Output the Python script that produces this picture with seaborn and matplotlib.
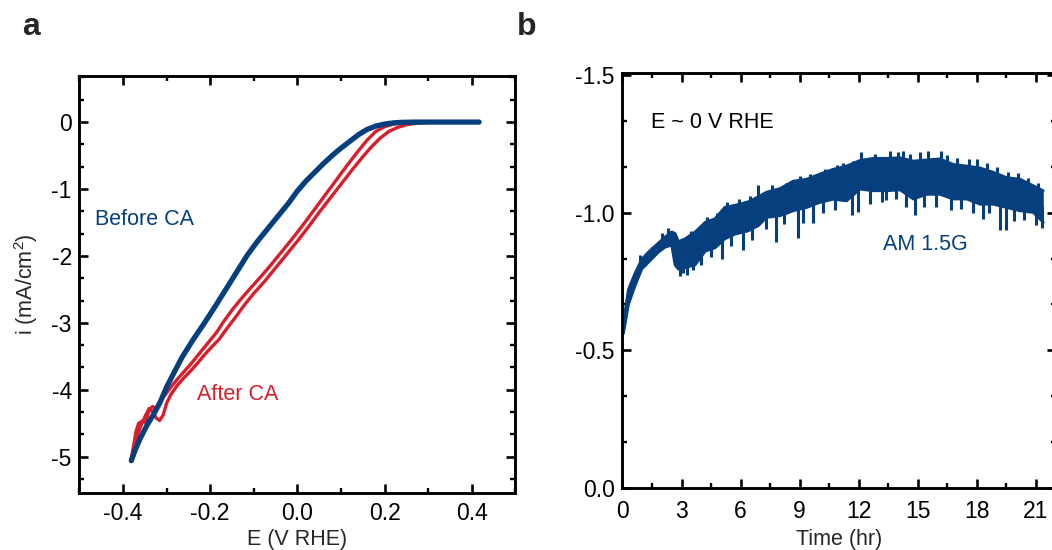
import matplotlib
matplotlib.use("Agg")
import matplotlib.pyplot as plt
from matplotlib.ticker import MultipleLocator, FormatStrFormatter
import seaborn as sns
import pandas as pd
import numpy as np

# ---------------- data: panel a (LSV before / after CA) ----------------
before_E = [-0.381, -0.372, -0.360, -0.345, -0.330, -0.315, -0.300, -0.285, -0.265, -0.240,
            -0.215, -0.190, -0.165, -0.140, -0.115, -0.090, -0.065, -0.040, -0.020, 0.000,
            0.020, 0.040, 0.060, 0.080, 0.100, 0.120, 0.140, 0.160, 0.180, 0.200,
            0.220, 0.240, 0.270, 0.320, 0.417]
before_i = [-5.06, -4.90, -4.72, -4.53, -4.37, -4.19, -3.96, -3.77, -3.52, -3.26,
            -3.02, -2.77, -2.51, -2.25, -1.99, -1.77, -1.57, -1.37, -1.21, -1.03,
            -0.88, -0.75, -0.62, -0.50, -0.39, -0.29, -0.19, -0.11, -0.06, -0.03,
            -0.012, -0.004, 0.0, 0.0, 0.0]

after1_E = [-0.381, -0.376, -0.370, -0.364, -0.356, -0.348, -0.340, -0.332, -0.324, -0.316,
            -0.304, -0.290, -0.275, -0.260, -0.245, -0.230, -0.215, -0.200, -0.185, -0.170,
            -0.150, -0.130, -0.110, -0.085, -0.060, -0.035, -0.010, 0.015, 0.040, 0.065,
            0.090, 0.115, 0.140, 0.160, 0.180, 0.200, 0.220, 0.240, 0.270, 0.405]
after1_i = [-5.03, -4.85, -4.62, -4.50, -4.47, -4.49, -4.30, -4.25, -4.29, -4.18,
            -4.08, -3.96, -3.84, -3.73, -3.62, -3.50, -3.38, -3.26, -3.14, -2.99,
            -2.81, -2.65, -2.50, -2.32, -2.13, -1.93, -1.73, -1.52, -1.30, -1.08,
            -0.86, -0.64, -0.43, -0.27, -0.14, -0.07, -0.03, -0.01, 0.0, 0.0]

after2_E = [-0.381, -0.376, -0.368, -0.358, -0.348, -0.340, -0.332, -0.324, -0.316, -0.308,
            -0.300, -0.290, -0.275, -0.260, -0.245, -0.230, -0.212, -0.195, -0.180, -0.160,
            -0.140, -0.120, -0.100, -0.075, -0.050, -0.025, 0.000, 0.025, 0.050, 0.075,
            0.100, 0.125, 0.150, 0.170, 0.190, 0.210, 0.230, 0.250, 0.270, 0.300,
            0.330, 0.405]
after2_i = [-5.06, -4.88, -4.70, -4.52, -4.38, -4.28, -4.33, -4.42, -4.46, -4.38,
            -4.20, -4.07, -3.93, -3.82, -3.72, -3.61, -3.47, -3.35, -3.25, -3.07,
            -2.90, -2.72, -2.56, -2.38, -2.18, -1.98, -1.78, -1.57, -1.35, -1.14,
            -0.93, -0.72, -0.52, -0.37, -0.24, -0.14, -0.08, -0.04, -0.02, -0.005,
            0.0, 0.0]

# ---------------- data: panel b (CA at ~0 V RHE) ----------------
ca_t = [0.05, 0.3, 0.64, 0.98, 1.32, 1.83, 2.17, 2.5, 2.67, 2.84, 3.18, 3.69, 4.2, 4.7, 5.2,
        5.71, 6.39, 6.9, 7.32, 8.0, 8.67, 9.35, 10.0, 10.7, 11.38, 12.05, 12.73, 13.4, 14.1,
        14.77, 15.45, 16.12, 16.8, 17.48, 18.16, 18.84, 19.51, 20.19, 20.87, 21.37]
ca_upper = [-0.60, -0.72, -0.78, -0.83, -0.857, -0.89, -0.912, -0.93, -0.925, -0.895, -0.905,
            -0.93, -0.965, -0.978, -1.02, -1.027, -1.04, -1.058, -1.075, -1.088, -1.115,
            -1.122, -1.14, -1.158, -1.17, -1.19, -1.198, -1.198, -1.2, -1.188, -1.192,
            -1.196, -1.176, -1.17, -1.163, -1.147, -1.128, -1.122, -1.098, -1.08]
ca_lower = [-0.56, -0.665, -0.735, -0.795, -0.82, -0.857, -0.875, -0.882, -0.81, -0.795, -0.80,
            -0.81, -0.86, -0.872, -0.905, -0.922, -0.934, -0.953, -0.983, -0.989, -1.007,
            -1.019, -1.037, -1.049, -1.043, -1.086, -1.08, -1.08, -1.083, -1.05, -1.067,
            -1.067, -1.05, -1.05, -1.031, -1.031, -1.019, -1.007, -1.001, -0.965]
# short noise spikes (time, tip value)
spike_t = [0.0, 2.9, 3.05, 3.3, 3.6, 4.0, 4.5, 5.04, 5.5, 6.14, 6.6, 7.3, 7.79, 8.2, 8.89,
           9.18, 9.7, 10.2, 10.8, 11.65, 11.96, 12.58, 13.17, 13.4, 13.9, 14.4, 14.85, 15.3,
           15.9, 16.7, 17.2, 17.8, 18.33, 18.6, 19.17, 19.5, 19.9, 20.4, 21.0, 21.3,
           0.9, 1.5, 2.0, 2.3, 3.5, 4.3, 4.8, 5.3, 5.9, 6.5, 6.9, 7.6, 8.3, 9.0, 9.5, 10.3,
           10.9, 11.2, 11.7, 12.1, 12.8, 13.57, 14.0, 14.26, 14.6, 15.1, 15.53, 16.2, 16.5,
           17.0, 17.6, 18.0, 18.5, 19.0, 19.6, 20.1, 20.6, 21.1]
spike_tip = [-0.85, -0.77, -0.78, -0.775, -0.79, -0.81, -0.84, -0.833, -0.88, -0.864, -0.90,
             -0.94, -0.894, -0.96, -0.909, -0.961, -0.961, -1.0, -1.01, -0.991, -1.003, -1.033,
             -1.039, -1.045, -1.05, -1.02, -0.991, -1.02, -1.02, -1.009, -1.015, -1.0, -0.979,
             -1.0, -0.936, -0.936, -0.97, -0.975, -0.955, -0.945,
             -0.845, -0.875, -0.925, -0.945, -0.935, -0.985, -1.0, -1.04, -1.05, -1.06, -1.10,
             -1.10, -1.11, -1.135, -1.14, -1.16, -1.175, -1.18, -1.19, -1.22, -1.215, -1.225,
             -1.22, -1.225, -1.215, -1.22, -1.225, -1.225, -1.21, -1.2, -1.195, -1.195, -1.18,
             -1.165, -1.15, -1.145, -1.125, -1.11]

BLUE = "#053f7e"
RED = "#d81e2a"

sns.set_style("ticks")
plt.rcParams["font.family"] = ["Liberation Sans", "DejaVu Sans"]
plt.rcParams["axes.unicode_minus"] = False
plt.rcParams["mathtext.fontset"] = "custom"
plt.rcParams["mathtext.rm"] = "Liberation Sans"

fig = plt.figure(figsize=(10.52, 5.5), dpi=100)
ax1 = fig.add_axes([0.0755, 0.104, 0.4143, 0.758])
ax2 = fig.add_axes([0.5917, 0.1136, 0.4118, 0.7544])

TICK_FS = 16.5
LAB_FS = 15.5


def style(ax, xpad=5.5):
    for s in ax.spines.values():
        s.set_linewidth(2.1)
        s.set_color("black")
    ax.tick_params(which="both", direction="in", top=True, right=True,
                   labelsize=TICK_FS, colors="black", pad=5.5)
    ax.tick_params(axis="x", which="both", pad=xpad)
    ax.tick_params(which="major", length=6.5, width=1.9)
    ax.tick_params(which="minor", length=3.6, width=1.7)


# ---------------- panel a ----------------
dfa1 = pd.DataFrame({"E": after1_E, "i": after1_i})
dfa2 = pd.DataFrame({"E": after2_E, "i": after2_i})
dfb = pd.DataFrame({"E": before_E, "i": before_i})
kw = dict(sort=False, estimator=None, ax=ax1)
sns.lineplot(data=dfa1, x="E", y="i", color=RED, lw=2.4, **kw)
sns.lineplot(data=dfa2, x="E", y="i", color=RED, lw=2.4, **kw)
sns.lineplot(data=dfb, x="E", y="i", color=BLUE, lw=3.8, **kw)
for ln in ax1.lines:
    ln.set_solid_joinstyle("round")
    ln.set_solid_capstyle("round")

ax1.set_xlim(-0.5, 0.5)
ax1.set_ylim(-5.54, 0.69)
ax1.xaxis.set_major_locator(MultipleLocator(0.2))
ax1.xaxis.set_minor_locator(MultipleLocator(0.1))
ax1.xaxis.set_major_formatter(FormatStrFormatter("%.1f"))
ax1.yaxis.set_major_locator(MultipleLocator(1))
ax1.yaxis.set_minor_locator(MultipleLocator(1 / 3))
ax1.yaxis.set_major_formatter(FormatStrFormatter("%d"))
ax1.set_xlabel("E (V RHE)", fontsize=LAB_FS, labelpad=3)
ax1.set_ylabel("i (mA/cm$^2$)", fontsize=LAB_FS, labelpad=8)
style(ax1, xpad=6.5)
ax1.text(-0.465, -1.45, "Before CA", color=BLUE, fontsize=LAB_FS, va="center", ha="left")
ax1.text(-0.231, -4.07, "After CA", color=RED, fontsize=LAB_FS, va="center", ha="left")

# ---------------- panel b ----------------
dfc = pd.DataFrame({"t": ca_t, "up": ca_upper, "lo": ca_lower})
ax2.fill_between(dfc["t"], dfc["lo"], dfc["up"], color=BLUE, lw=0)
sns.lineplot(data=dfc, x="t", y="up", estimator=None, color=BLUE, lw=2.0, ax=ax2)
sns.lineplot(data=dfc, x="t", y="lo", estimator=None, color=BLUE, lw=2.0, ax=ax2)
mid = (np.interp(spike_t, ca_t, ca_upper) + np.interp(spike_t, ca_t, ca_lower)) / 2
ax2.vlines(spike_t, mid, spike_tip, color=BLUE, lw=2.2)

ax2.set_xlim(0, 22)
ax2.set_ylim(0, -1.51)
ax2.xaxis.set_major_locator(MultipleLocator(3))
ax2.xaxis.set_minor_locator(MultipleLocator(1.5))
ax2.yaxis.set_major_locator(MultipleLocator(0.5))
ax2.yaxis.set_minor_locator(MultipleLocator(0.5 / 3))
ax2.yaxis.set_major_formatter(FormatStrFormatter("%.1f"))
ax2.set_xlabel("Time (hr)", fontsize=LAB_FS, labelpad=4)
ax2.set_ylabel("")
style(ax2, xpad=9)
ax2.text(1.47, -1.329, "E ~ 0 V RHE", color="black", fontsize=LAB_FS, va="center", ha="left")
ax2.text(13.22, -0.886, "AM 1.5G", color=BLUE, fontsize=LAB_FS, va="center", ha="left")

fig.text(22 / 1052, 1 - 35 / 550, "a", fontsize=23, fontweight="bold", ha="left", va="baseline")
fig.text(517 / 1052, 1 - 35 / 550, "b", fontsize=23, fontweight="bold", ha="left", va="baseline")

fig.savefig("out.png", dpi=100)
